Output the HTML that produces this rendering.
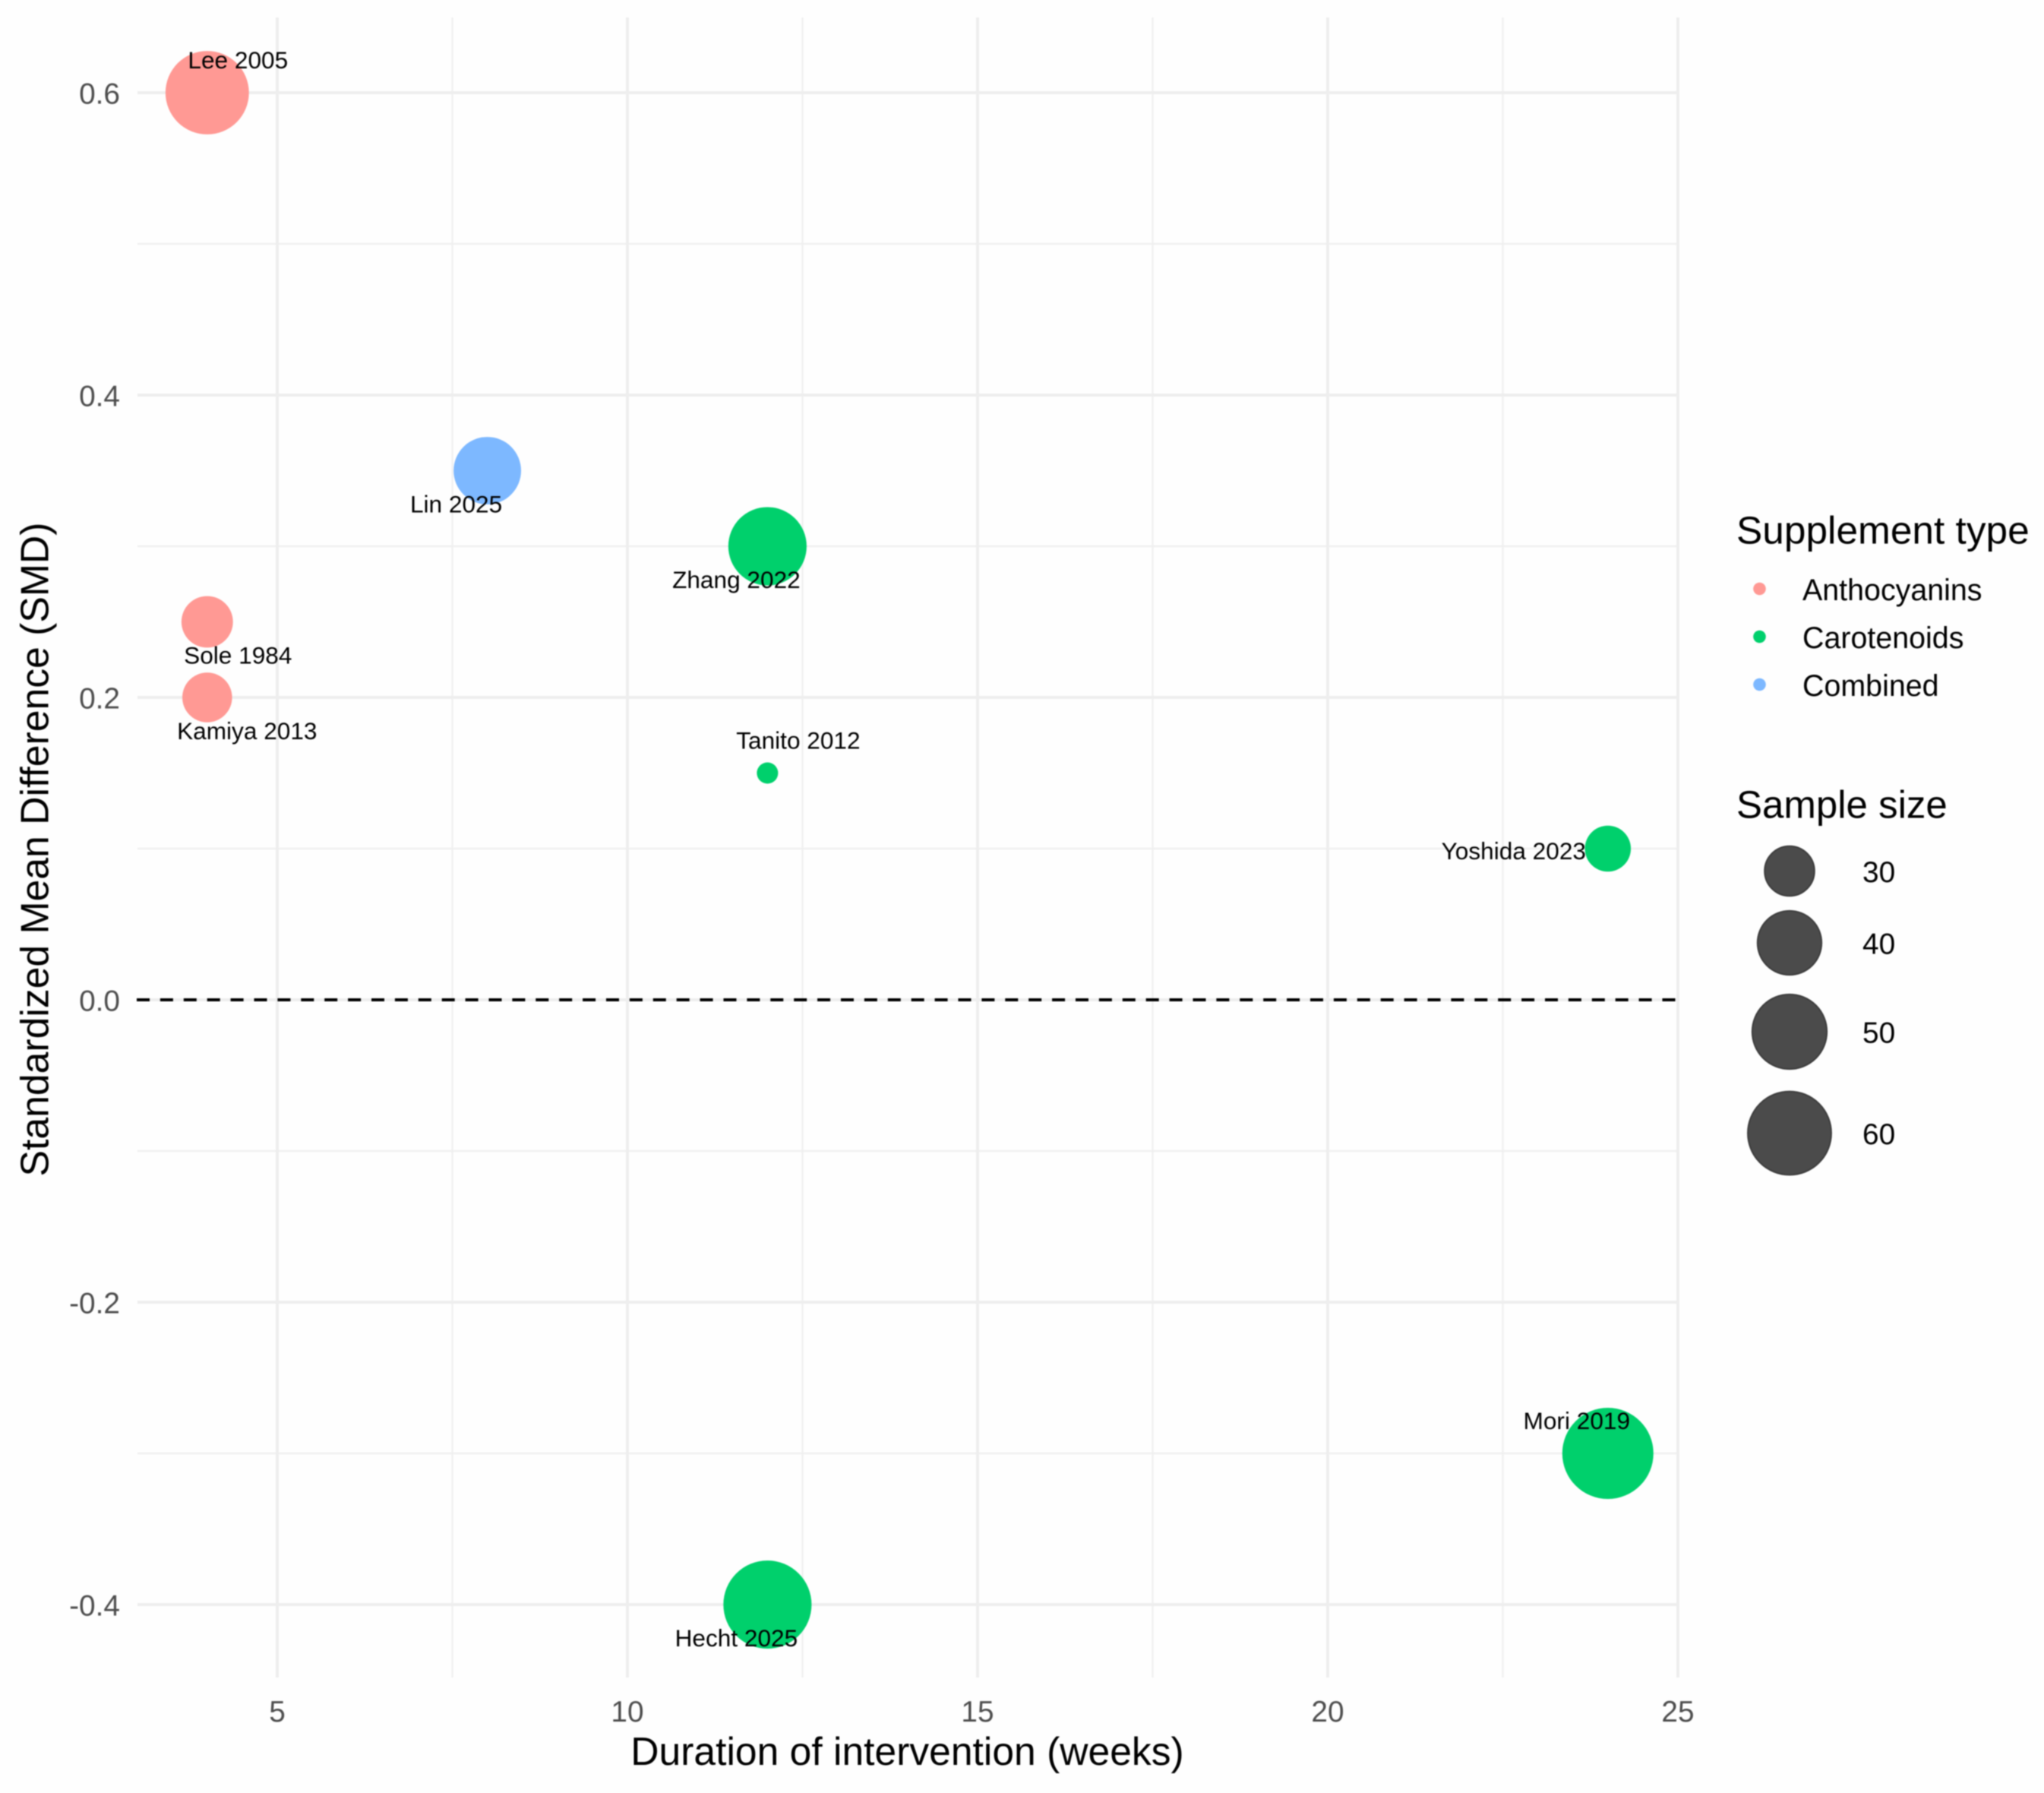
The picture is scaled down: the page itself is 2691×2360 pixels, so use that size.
<!DOCTYPE html>
<html lang="en">
<head>
<meta charset="utf-8">
<title>Standardized Mean Difference by Duration of Intervention</title>
<style>
  html, body { margin: 0; padding: 0; background: #fefefe; }
  #chart { display: block; width: 2691px; height: 2360px; filter: blur(0.7px); }
  text { font-family: "Liberation Sans", Arial, sans-serif; }
</style>
</head>
<body>
<svg id="chart" xmlns="http://www.w3.org/2000/svg" width="2691" height="2360" viewBox="0 0 2691 2360">
  <rect x="0" y="0" width="2691" height="2360" fill="#fefefe"/>
  <g id="grid"></g>
  <g id="refline"></g>
  <g id="points"></g>
  <g id="labels"></g>
  <g id="xticks"></g>
  <g id="yticks"></g>
  <text x="1194.5" y="2323" font-size="51.6" fill="#000" text-anchor="middle">Duration of intervention (weeks)</text>
  <text transform="translate(63.5 1118) rotate(-90)" font-size="51.7" fill="#000" text-anchor="middle">Standardized Mean Difference (SMD)</text>
  <text x="2286" y="715.5" font-size="51.4" fill="#000">Supplement type</text>
  <g id="colour-legend"></g>
  <text x="2286" y="1076.5" font-size="51" fill="#000">Sample size</text>
  <g id="size-legend"></g>
</svg>
<script>
const studies = ["Lee 2005", "Sole 1984", "Kamiya 2013", "Lin 2025", "Zhang 2022", "Tanito 2012", "Yoshida 2023", "Mori 2019", "Hecht 2025"];
const durationWeeks = [4, 4, 4, 8, 12, 12, 24, 24, 12];
const smdValues = [0.6, 0.25, 0.2, 0.35, 0.3, 0.15, 0.1, -0.3, -0.4];
const sampleSizes = [60, 31, 30, 43, 54, 22, 28, 70, 66];
const supplementTypes = ["Anthocyanins", "Anthocyanins", "Anthocyanins", "Combined", "Carotenoids", "Carotenoids", "Carotenoids", "Carotenoids", "Carotenoids"];
const labelSides = ["ne", "se", "se-far", "sw", "sw", "ne", "w-far", "nw", "sw"];
const legendTypes = ["Anthocyanins", "Carotenoids", "Combined"];
const sizeBreaks = [30, 40, 50, 60];
const xMajorTicks = [5, 10, 15, 20, 25];
const xMinorTicks = [7.5, 12.5, 17.5, 22.5];
const yMajorTicks = [-0.4, -0.2, 0, 0.2, 0.4, 0.6];
const yMinorTicks = [-0.3, -0.1, 0.1, 0.3, 0.5];

const SVGNS = "http://www.w3.org/2000/svg";
const PANEL = { left: 181, right: 2209, top: 23, bottom: 2208 };
const TYPE_FILL = { Anthocyanins: "#ff9994", Carotenoids: "#00d06c", Combined: "#7db8ff" };
const SIDE_OFFSET = {
  "ne": [40.5, -32],
  "nw": [-41, -32],
  "se": [40.5, 55],
  "sw": [-41, 55],
  "se-far": [52.5, 55],
  "w-far": [-124, 14]
};
const LEGEND_ROW_Y = [775, 838, 901];
const SIZE_ROW_Y = [1146.5, 1241, 1358, 1491.5];

function xScale(v) { return 365 + (v - 5) * (2209 - 365) / 20; }
function yScale(v) { return 1316 - v * (2112 - 122) / 1; }
function radiusScale(n) {
  const t = Math.max(0, (n - 22) / (70 - 22));
  return 14 + 46 * Math.sqrt(t);
}
function mk(tag, attrs, parent, content) {
  const el = document.createElementNS(SVGNS, tag);
  for (const k in attrs) el.setAttribute(k, attrs[k]);
  if (content !== undefined) el.textContent = content;
  parent.appendChild(el);
  return el;
}

const gridG = document.getElementById("grid");
const refG = document.getElementById("refline");
const pointsG = document.getElementById("points");
const labelsG = document.getElementById("labels");
const xTicksG = document.getElementById("xticks");
const yTicksG = document.getElementById("yticks");
const colourG = document.getElementById("colour-legend");
const sizeG = document.getElementById("size-legend");

yMinorTicks.forEach(function (v) {
  const el = mk("line", { x1: PANEL.left, x2: PANEL.right, y1: yScale(v), y2: yScale(v), stroke: "#f0f0f0", "stroke-width": 2.4 }, gridG);
  
  
});
xMinorTicks.forEach(function (v) {
  const el = mk("line", { x1: xScale(v), x2: xScale(v), y1: PANEL.top, y2: PANEL.bottom, stroke: "#f0f0f0", "stroke-width": 2.4 }, gridG);
  
  
});
yMajorTicks.forEach(function (v) {
  const el = mk("line", { x1: PANEL.left, x2: PANEL.right, y1: yScale(v), y2: yScale(v), stroke: "#eeeeee", "stroke-width": 4 }, gridG);
  
  
});
xMajorTicks.forEach(function (v) {
  const el = mk("line", { x1: xScale(v), x2: xScale(v), y1: PANEL.top, y2: PANEL.bottom, stroke: "#eeeeee", "stroke-width": 4 }, gridG);
  
  
});

const zeroLine = mk("line", { x1: 180, x2: 2207, y1: yScale(0), y2: yScale(0), stroke: "#000", "stroke-width": 4, "stroke-dasharray": "17 13.9" }, refG);



studies.forEach(function (name, i) {
  const c = mk("circle", { cx: xScale(durationWeeks[i]), cy: yScale(smdValues[i]), r: radiusScale(sampleSizes[i]), fill: TYPE_FILL[supplementTypes[i]] }, pointsG);
  
  
});
studies.forEach(function (name, i) {
  const off = SIDE_OFFSET[labelSides[i]];
  const t = mk("text", { x: xScale(durationWeeks[i]) + off[0], y: yScale(smdValues[i]) + off[1], "font-size": 31.6, fill: "#000", "text-anchor": "middle" }, labelsG, name);
  
  
});

xMajorTicks.forEach(function (v) {
  const t = mk("text", { x: xScale(v), y: 2266, "font-size": 38.8, fill: "#4d4d4d", "text-anchor": "middle" }, xTicksG, String(v));
  
  
});
yMajorTicks.forEach(function (v) {
  const t = mk("text", { x: 158, y: yScale(v) + 14.5, "font-size": 38.8, fill: "#4d4d4d", "text-anchor": "end" }, yTicksG, v.toFixed(1));
  
  
});

legendTypes.forEach(function (name, i) {
  const c = mk("circle", { cx: 2316.5, cy: LEGEND_ROW_Y[i], r: 8.3, fill: TYPE_FILL[name] }, colourG);
  
  
  const t = mk("text", { x: 2373, y: LEGEND_ROW_Y[i] + 15, "font-size": 39.4, fill: "#000" }, colourG, name);
  
  
});

sizeBreaks.forEach(function (n, i) {
  const c = mk("circle", { cx: 2356, cy: SIZE_ROW_Y[i], r: radiusScale(n), fill: "#4b4b4b", stroke: "#3c3c3c", "stroke-width": 2 }, sizeG);
  
  
  const t = mk("text", { x: 2452, y: SIZE_ROW_Y[i] + 14.5, "font-size": 38.8, fill: "#000" }, sizeG, String(n));
  
  
});
</script>
</body>
</html>
